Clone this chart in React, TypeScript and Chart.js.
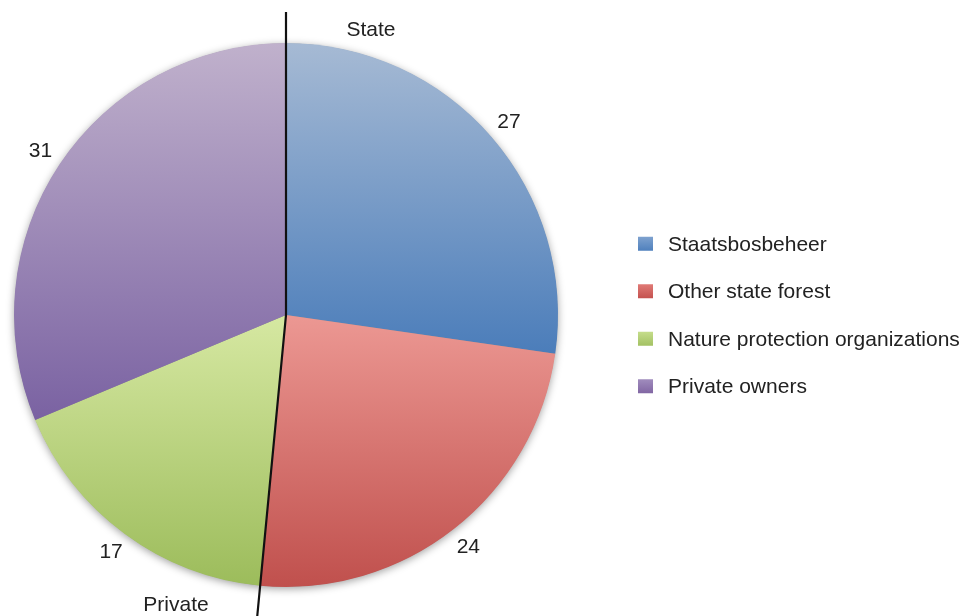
import React, { useEffect, useRef } from "react";
import { Chart, registerables } from "chart.js";

Chart.register(...registerables);

// ---- data ----
const categories = [
  "Staatsbosbeheer",
  "Other state forest",
  "Nature protection organizations",
  "Private owners",
];
const shares = [27, 24, 17, 31];
const groupLabels = ["State", "Private"];

// ---- styles ----
const lightColors = ["#a6bad4", "#ec9893", "#d6e8a2", "#c0b1cc"];
const darkColors = ["#4b7dba", "#c0504d", "#9cbc5b", "#7a62a2"];
const legendLight = ["#7ea2cf", "#e07a76", "#c5dd8b", "#a08cbd"];
const legendDark = ["#4f80bd", "#c4524f", "#a3c163", "#8166a3"];
const FONT = '21px "Liberation Sans", Arial, Helvetica, sans-serif';
const TEXT = "#222222";

function arcExtent(arc: any) {
  const { x, y, startAngle, endAngle, outerRadius } = arc.getProps(
    ["x", "y", "startAngle", "endAngle", "outerRadius"],
    true
  );
  const angles = [startAngle, endAngle];
  for (const a of [-Math.PI / 2, Math.PI / 2, (3 * Math.PI) / 2]) {
    if (a > startAngle && a < endAngle) angles.push(a);
  }
  let minY = y;
  let maxY = y;
  for (const a of angles) {
    const py = y + outerRadius * Math.sin(a);
    minY = Math.min(minY, py);
    maxY = Math.max(maxY, py);
  }
  return { minY, maxY };
}

const piePlugin = {
  id: "piePlugin",
  beforeDatasetsDraw(chart: any) {
    const ctx = chart.ctx;
    const meta = chart.getDatasetMeta(0);
    const arcs = meta.data;
    if (!arcs.length) return;
    const a0 = arcs[0];
    // soft shadow behind the pie
    ctx.save();
    ctx.beginPath();
    ctx.arc(a0.x, a0.y, a0.outerRadius - 0.5, 0, Math.PI * 2);
    ctx.shadowColor = "rgba(0,0,0,0.4)";
    ctx.shadowBlur = 8;
    ctx.shadowOffsetY = 2;
    ctx.fillStyle = "#8a8a8a";
    ctx.fill();
    ctx.restore();
    // vertical gradients per slice
    arcs.forEach((arc: any, i: number) => {
      const { minY, maxY } = arcExtent(arc);
      const g = ctx.createLinearGradient(0, minY, 0, maxY);
      g.addColorStop(0, lightColors[i]);
      g.addColorStop(1, darkColors[i]);
      arc.options = { ...arc.options, backgroundColor: g };
    });
  },
  afterDatasetsDraw(chart: any) {
    const ctx = chart.ctx;
    const meta = chart.getDatasetMeta(0);
    const arcs = meta.data;
    if (!arcs.length) return;
    const a0 = arcs[0];
    const cx = a0.x;
    const cy = a0.y;
    const R = a0.outerRadius;

    // dividing line between state and private ownership
    const topAngle = arcs[0].startAngle;
    const botAngle = arcs[1].endAngle;
    ctx.save();
    ctx.strokeStyle = "#111111";
    ctx.lineWidth = 2.2;
    ctx.beginPath();
    ctx.moveTo(cx + (R + 31) * Math.cos(topAngle), cy + (R + 31) * Math.sin(topAngle));
    ctx.lineTo(cx, cy);
    ctx.lineTo(cx + (R + 40) * Math.cos(botAngle), cy + (R + 40) * Math.sin(botAngle));
    ctx.stroke();
    ctx.restore();

    ctx.save();
    ctx.font = FONT;
    ctx.fillStyle = TEXT;
    ctx.textAlign = "center";
    ctx.textBaseline = "middle";
    // value labels outside the slices
    arcs.forEach((arc: any, i: number) => {
      const mid = (arc.startAngle + arc.endAngle) / 2;
      const r = R + 23;
      ctx.fillText(String(shares[i]), cx + r * Math.cos(mid), cy + r * Math.sin(mid));
    });
    // group labels
    ctx.fillText(groupLabels[0], cx + 85, cy - 285);
    ctx.fillText(groupLabels[1], cx - 110, cy + 290);
    ctx.restore();

    // legend
    const area = chart.chartArea;
    const boxX = area.right + 80;
    const textX = area.right + 110;
    const step = 47.5;
    ctx.save();
    ctx.font = FONT;
    ctx.textAlign = "left";
    ctx.textBaseline = "middle";
    categories.forEach((label, i) => {
      const yc = cy + (i - (categories.length - 1) / 2) * step;
      const g = ctx.createLinearGradient(0, yc - 7, 0, yc + 7);
      g.addColorStop(0, legendLight[i]);
      g.addColorStop(1, legendDark[i]);
      ctx.fillStyle = g;
      ctx.fillRect(boxX, yc - 7, 15, 14);
      ctx.fillStyle = TEXT;
      ctx.fillText(label, textX, yc + 1);
    });
    ctx.restore();
  },
};

export default function App() {
  const canvasRef = useRef<HTMLCanvasElement | null>(null);

  useEffect(() => {
    document.body.style.margin = "0";
    const canvas = canvasRef.current;
    if (!canvas) return;
    const chart = new Chart(canvas, {
      type: "pie",
      data: {
        labels: categories,
        datasets: [
          {
            data: shares,
            backgroundColor: darkColors,
            borderWidth: 0,
            hoverOffset: 0,
            offset: 0,
          },
        ],
      },
      options: {
        responsive: false,
        animation: false,
        events: [],
        layout: {
          padding: { left: 14, right: 409, top: 43, bottom: 29 },
        },
        plugins: {
          legend: { display: false },
          tooltip: { enabled: false },
        },
      },
      plugins: [piePlugin],
    });
    return () => chart.destroy();
  }, []);

  return (
    <div style={{ width: 967, height: 616, background: "#ffffff" }}>
      <canvas ref={canvasRef} width={967} height={616} style={{ display: "block" }} />
    </div>
  );
}
